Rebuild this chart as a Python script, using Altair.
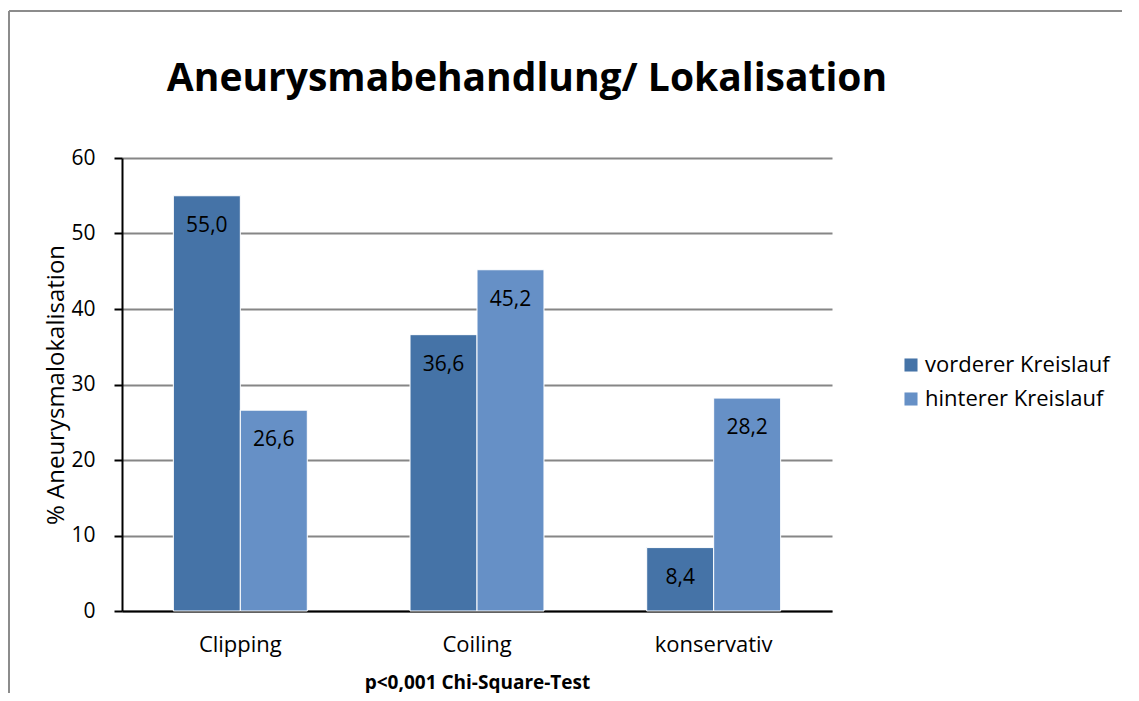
import altair as alt
import pandas as pd

categories = ["Clipping", "Coiling", "konservativ"]
series = ["vorderer Kreislauf", "hinterer Kreislauf"]
vorderer = [55.0, 36.6, 8.4]
hinterer = [26.6, 45.2, 28.2]
colors = ["#4573A7", "#6690C6"]
title_text = "Aneurysmabehandlung/ Lokalisation"

rows = []
for c, v, h in zip(categories, vorderer, hinterer):
    rows.append({"cat": c, "series": series[0], "value": v})
    rows.append({"cat": c, "series": series[1], "value": h})
df = pd.DataFrame(rows)
df["label"] = df["value"].map(lambda v: f"{v:.1f}".replace(".", ","))

FONT = "Open Sans"
W, H = 710, 453

x = alt.X("cat:N", sort=categories,
          scale=alt.Scale(paddingInner=0.434, paddingOuter=0.217),
          axis=alt.Axis(title="p<0,001 Chi-Square-Test", labelAngle=0,
                        labelFontSize=22, labelFont=FONT, labelColor="#000",
                        labelPadding=23, ticks=False, domainColor="#000",
                        domainWidth=2, titleFont=FONT, titleFontSize=19,
                        titleFontWeight="bold", titleColor="#000",
                        titlePadding=18))
xo = alt.XOffset("series:N", sort=series)
y = alt.Y("value:Q", scale=alt.Scale(domain=[0, 60]),
          axis=alt.Axis(title="% Aneurysmalokalisation", values=[0, 10, 20, 30, 40, 50, 60],
                        labelFontSize=21, labelFont=FONT, labelColor="#000",
                        tickSize=8, tickColor="#000", tickWidth=2,
                        domainColor="#000", domainWidth=2,
                        gridColor="#868686", gridWidth=2,
                        titleFont=FONT, titleFontSize=24, titleFontWeight="normal",
                        titleColor="#000", titlePadding=2, labelPadding=19))

bars = alt.Chart(df).mark_bar(stroke="white", strokeWidth=1).encode(
    x=x, xOffset=xo, y=y,
    color=alt.Color("series:N", sort=series,
                    scale=alt.Scale(domain=series, range=colors),
                    legend=alt.Legend(title=None, orient="none", legendX=778, legendY=196,
                                      symbolType="square", symbolSize=170,
                                      symbolStrokeWidth=0, labelFont=FONT,
                                      labelFontSize=22, labelColor="#000",
                                      labelLimit=400,
                                      rowPadding=12, labelOffset=3)),
)

text = alt.Chart(df).mark_text(baseline="middle", dy=30, fontSize=21, font=FONT,
                               color="#000").encode(
    x=alt.X("cat:N", sort=categories), xOffset=xo, y="value:Q", text="label:N")

title = alt.Chart(pd.DataFrame({"t": [title_text]})).mark_text(
    fontSize=39, font=FONT, fontWeight="bold", color="#000",
    baseline="alphabetic", align="center").encode(
    x=alt.value(405), y=alt.value(-67), text="t:N")

frame_top = alt.Chart(df).mark_rule(color="#8c8c8c", strokeWidth=2).encode(
    x=alt.value(-113), x2=alt.value(1100), y=alt.value(-147))
frame_left = alt.Chart(df).mark_rule(color="#8c8c8c", strokeWidth=2).encode(
    x=alt.value(-113), y=alt.value(-147), y2=alt.value(600))

chart = alt.layer(bars, text, title, frame_top, frame_left).properties(
    width=W, height=H,
    autosize=alt.AutoSizeParams(type="none"),
    padding={"left": 114, "top": 150, "right": 290, "bottom": 82},
).configure_view(stroke=None)

chart.save("out.html", embed_options={"renderer": "svg", "actions": False})
